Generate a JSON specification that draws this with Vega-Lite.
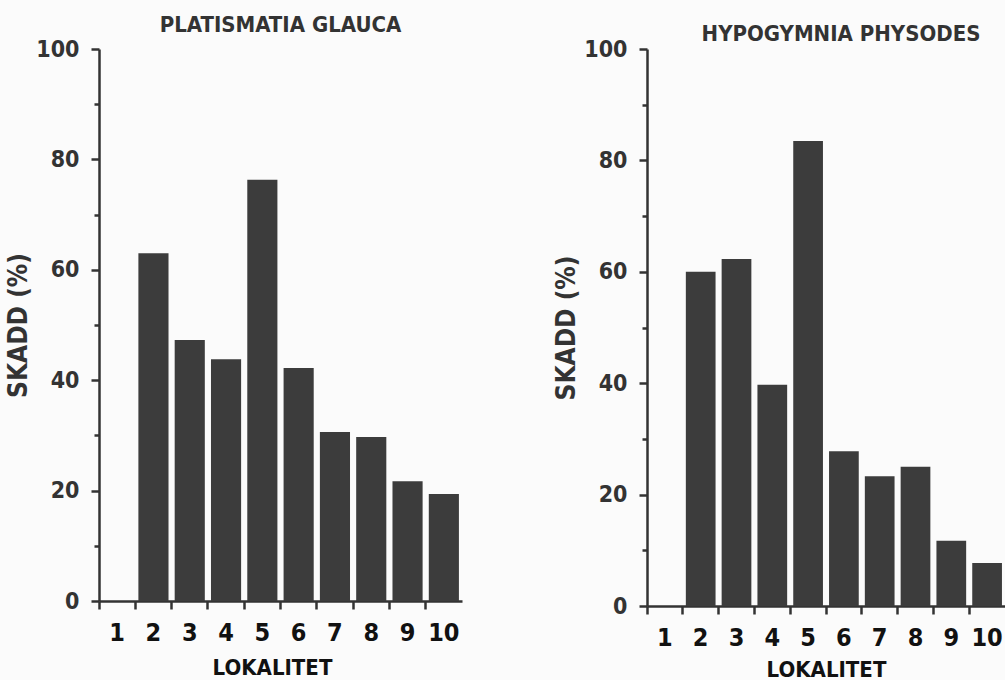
{
  "$schema": "https://vega.github.io/schema/vega-lite/v6.json",
  "background": "#fbfbfb",
  "padding": {"left": 5, "top": 14, "right": 0, "bottom": 0},
  "datasets": {
    "platismatia": [
      {"lokalitet": "1", "skadd": 0},
      {"lokalitet": "2", "skadd": 63.0},
      {"lokalitet": "3", "skadd": 47.3},
      {"lokalitet": "4", "skadd": 43.8},
      {"lokalitet": "5", "skadd": 76.3},
      {"lokalitet": "6", "skadd": 42.2},
      {"lokalitet": "7", "skadd": 30.6},
      {"lokalitet": "8", "skadd": 29.7},
      {"lokalitet": "9", "skadd": 21.7},
      {"lokalitet": "10", "skadd": 19.4}
    ],
    "hypogymnia": [
      {"lokalitet": "1", "skadd": 0},
      {"lokalitet": "2", "skadd": 60.0},
      {"lokalitet": "3", "skadd": 62.3},
      {"lokalitet": "4", "skadd": 39.7},
      {"lokalitet": "5", "skadd": 83.5},
      {"lokalitet": "6", "skadd": 27.8},
      {"lokalitet": "7", "skadd": 23.3},
      {"lokalitet": "8", "skadd": 25.0},
      {"lokalitet": "9", "skadd": 11.7},
      {"lokalitet": "10", "skadd": 7.7}
    ]
  },
  "config": {
    "view": {"stroke": null},
    "concat": {"spacing": 91},
    "font": "DejaVu Sans Condensed",
    "title": {"font": "DejaVu Sans Condensed", "fontSize": 22, "fontWeight": "bold", "color": "#333333", "anchor": "middle"},
    "axis": {
      "domainColor": "#333333", "domainWidth": 2.5,
      "tickColor": "#333333", "tickWidth": 2.5,
      "labelFont": "DejaVu Sans Condensed", "labelFontWeight": "bold",
      "titleFont": "DejaVu Sans Condensed", "titleFontWeight": "bold",
      "grid": false
    }
  },
  "hconcat": [
    {
      "width": 363,
      "height": 552,
      "title": {"text": "PLATISMATIA GLAUCA", "offset": 1},
      "data": {"name": "platismatia"},
      "mark": {"type": "bar", "color": "#3c3c3c", "width": {"band": 0.83}},
      "encoding": {
        "x": {
          "field": "lokalitet", "type": "ordinal", "sort": null,
          "scale": {"paddingInner": 0, "paddingOuter": 0},
          "axis": {"title": "LOKALITET", "labelAngle": 0, "bandPosition": 0, "tickSize": 8,
                   "labelFontSize": 25, "labelColor": "#111111", "labelPadding": 11,
                   "titleFontSize": 22, "titleColor": "#111111", "titlePadding": 12, "titleX": 173}
        },
        "y": {
          "field": "skadd", "type": "quantitative",
          "scale": {"domain": [0, 100], "nice": false},
          "axis": {"title": "SKADD (%)", "values": [0, 10, 20, 30, 40, 50, 60, 70, 80, 90, 100],
                   "labelExpr": "datum.value % 20 === 0 ? datum.label : ''",
                   "tickSize": {"condition": {"test": "datum.value % 20 === 0", "value": 8}, "value": 5},
                   "labelFontSize": 23, "labelColor": "#333333", "labelPadding": 12,
                   "titleFontSize": 26, "titleColor": "#333333", "titlePadding": 4}
        }
      }
    },
    {
      "width": 358,
      "height": 557,
      "title": {"text": "HYPOGYMNIA PHYSODES", "offset": -8, "dx": 15},
      "data": {"name": "hypogymnia"},
      "mark": {"type": "bar", "color": "#3c3c3c", "width": {"band": 0.83}},
      "encoding": {
        "x": {
          "field": "lokalitet", "type": "ordinal", "sort": null,
          "scale": {"paddingInner": 0, "paddingOuter": 0},
          "axis": {"title": "LOKALITET", "labelAngle": 0, "bandPosition": 0, "tickSize": 8,
                   "labelFontSize": 25, "labelColor": "#111111", "labelPadding": 11,
                   "titleFontSize": 22, "titleColor": "#111111", "titlePadding": 9}
        },
        "y": {
          "field": "skadd", "type": "quantitative",
          "scale": {"domain": [0, 100], "nice": false},
          "axis": {"title": "SKADD (%)", "values": [0, 10, 20, 30, 40, 50, 60, 70, 80, 90, 100],
                   "labelExpr": "datum.value % 20 === 0 ? datum.label : ''",
                   "tickSize": {"condition": {"test": "datum.value % 20 === 0", "value": 8}, "value": 5},
                   "labelFontSize": 23, "labelColor": "#333333", "labelPadding": 12,
                   "titleFontSize": 26, "titleColor": "#333333", "titlePadding": 4}
        }
      }
    }
  ]
}
